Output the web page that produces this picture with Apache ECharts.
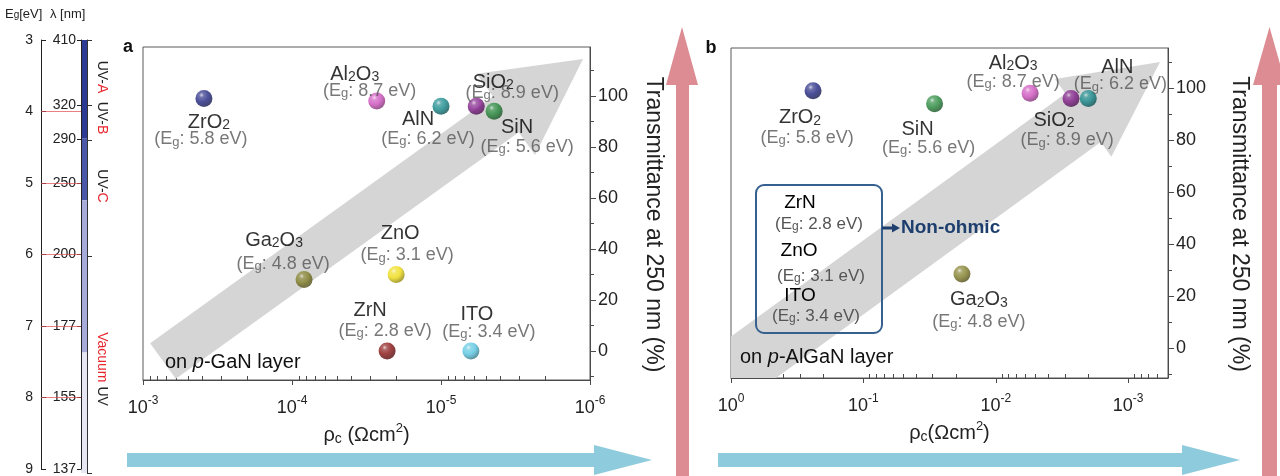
<!DOCTYPE html>
<html>
<head>
<meta charset="utf-8">
<script src="https://cdn.jsdelivr.net/npm/echarts@6.0.0/dist/echarts.min.js"></script>
<style>
html,body{margin:0;padding:0;background:#ffffff;}
#chart{width:1280px;height:476px;}
</style>
</head>
<body>
<div id="chart"></div>
<script>
// ---------------- data ----------------
const materials = ['ZrO2', 'Al2O3', 'AlN', 'SiO2', 'SiN', 'Ga2O3', 'ZnO', 'ZrN', 'ITO'];
const bandgapEv = [5.8, 8.7, 6.2, 8.9, 5.6, 4.8, 3.1, 2.8, 3.4];
const rhoOnGaN = [3.9e-4, 2.7e-5, 1.0e-5, 5.8e-6, 4.4e-6, 8.3e-5, 2.0e-5, 2.3e-5, 6.3e-6];
const transOnGaN = [99, 98, 96, 96, 94, 28, 30, 0, 0];
const rhoOnAlGaN = [0.24, 5.5e-3, 2.0e-3, 2.7e-3, 0.029, 0.018, null, null, null]; // null: non-ohmic
const transOnAlGaN = [99, 98, 96, 96, 94, 28.5, null, null, null];
const transTicks = [0, 20, 40, 60, 80, 100];
const transMinorTicks = [-10, 10, 30, 50, 70, 90, 110];
const egTicks = [3, 4, 5, 6, 7, 8, 9];
const lambdaTickLabels = ['410', '320', '290', '250', '200', '177', '155', '137'];
const lambdaTickEg = [3, 3.91, 4.39, 5, 6, 7, 8, 9];
const lambdaRightTickEg = [3, 3.91, 4.39, 6, 9];
const uvBandEdgesEg = [3, 4.36, 5.22, 7.33, 9];
const egGuideLines = [4, 5, 6, 7, 8];

// ---------------- styles / layout ----------------
const FONT = '"Liberation Sans", Arial, Helvetica, sans-serif';
const sphereColor = {ZrO2:'#1f2480', Al2O3:'#cc4cbc', AlN:'#128688', SiO2:'#7e1a86', SiN:'#238638',
  Ga2O3:'#7f7c24', ZnO:'#eedb10', ZrN:'#861010', ITO:'#55c4e0'};
const uvBandColors = ['#2b3a92', '#4b58a9', '#a6abd9', '#e6e7f3'];
// [name dx, name dy, Eg dx, Eg dy] relative to sphere centre
const labelOffsetA = {ZrO2:[5,23,-3,39], Al2O3:[-22,-28,-7,-12], AlN:[-23,12,-13,31], SiO2:[17,-25,36,-15],
  SiN:[23,15,33,34], Ga2O3:[-30,-40,-21,-18], ZnO:[4,-42,11,-21], ZrN:[-17,-41,-2,-22], ITO:[6,-37,18,-21]};
const labelOffsetB = {ZrO2:[-13,26,-6,45], Al2O3:[-17,-31,-17,-13], AlN:[29,-32,32,-16], SiO2:[-17,21,-4,40],
  SiN:[-17,25,-6,42], Ga2O3:[17,25,17,46]};
const boxLayout = {ZrN:[800,203,819,223], ZnO:[799,251,821,275], ITO:[800,296,816,315]};

function hexRgb(h){const n=parseInt(h.slice(1),16);return [n>>16,(n>>8)&255,n&255];}
function mix(h,t,f){const c=hexRgb(h);return 'rgb('+c.map(v=>Math.round(v+(t-v)*f)).join(',')+')';}
function sphereFill(h){
  return {type:'radial', x:0.36, y:0.3, r:0.8, colorStops:[
    {offset:0, color:mix(h,255,0.75)}, {offset:0.18, color:mix(h,255,0.2)},
    {offset:0.5, color:h}, {offset:1, color:mix(h,0,0.5)}]};
}
function formulaRich(name){
  return name.replace(/([A-Za-z]+)|(\d+)/g,(m,a,d)=> a ? '{n|'+a+'}' : '{d|'+d+'}');
}
function egRich(eg){ return '{e|(E}{g|g}{e|: '+eg.toFixed(1)+' eV)}'; }
const nameRichStyle = {
  n:{fontSize:20, fontFamily:FONT, color:'#000', lineHeight:22, verticalAlign:'bottom'},
  d:{fontSize:14, fontFamily:FONT, color:'#000', lineHeight:13, verticalAlign:'bottom'}
};
const egRichStyle = {
  e:{fontSize:18, fontFamily:FONT, color:'#555', lineHeight:22, verticalAlign:'bottom'},
  g:{fontSize:13, fontFamily:FONT, color:'#555', lineHeight:12, verticalAlign:'bottom'}
};
const powRich = {
  b:{fontSize:18, fontFamily:FONT, color:'#222', lineHeight:22, verticalAlign:'bottom'},
  s:{fontSize:12, fontFamily:FONT, color:'#222', lineHeight:12, verticalAlign:'top'}
};
const rhoRich = {
  r:{fontSize:20, fontFamily:FONT, color:'#222', lineHeight:24, verticalAlign:'bottom'},
  c:{fontSize:14, fontFamily:FONT, color:'#222', lineHeight:12, verticalAlign:'bottom'},
  p:{fontSize:13, fontFamily:FONT, color:'#222', lineHeight:12, verticalAlign:'top'}
};
function powLabel(v){
  const e = Math.log10(v), r = Math.round(e);
  if (Math.abs(e - r) > 1e-6) return '';
  return '{b|10}{s|' + r + '}';
}
function minorLogTicks(lo, hi){
  const out = [];
  for (let d = Math.floor(lo); d < Math.ceil(hi); d++)
    for (let k = 2; k <= 9; k++){ const v = d + Math.log10(k); if (v >= lo - 1e-9 && v <= hi + 1e-9) out.push(v); }
  return out;
}
function decadeTicks(lo, hi){ const out=[]; for (let d=Math.ceil(lo-1e-9); d<=Math.floor(hi+1e-9); d++) out.push(d); return out; }

// grids (pixel rects)
const GA = {left:143, top:47, width:447, height:333};
const GB = {left:731, top:48, width:437, height:330};
const rangeA = {xmin:1e-6, xmax:1e-3, ymin:-11.4, ymax:119.2};
const rangeB = {xmin:5e-4, xmax:1, ymin:-11.5, ymax:115.4};

function logXAxes(grid, r, rhoName){
  const lo = Math.log10(r.xmin), hi = Math.log10(r.xmax);
  return [
    {type:'log', logBase:10, gridIndex:grid, position:'bottom', min:r.xmin, max:r.xmax, inverse:true,
     axisLine:{show:true, onZero:false, lineStyle:{color:'#4a4a4a', width:1}},
     axisTick:{show:false}, splitLine:{show:false}, minorTick:{show:false}, minorSplitLine:{show:false},
     axisLabel:{margin:15, formatter:powLabel, rich:powRich, color:'#222', showMinLabel:true, showMaxLabel:true},
     name:rhoName, nameLocation:'middle', nameGap:39, nameTextStyle:{rich:rhoRich, color:'#222'}},
    {type:'value', gridIndex:grid, position:'bottom', min:lo, max:hi, inverse:true,
     axisLine:{show:false, onZero:false}, axisLabel:{show:false}, splitLine:{show:false},
     axisTick:{show:true, inside:false, length:5, customValues:decadeTicks(lo,hi), lineStyle:{color:'#4a4a4a'}}},
    {type:'value', gridIndex:grid, position:'bottom', min:lo, max:hi, inverse:true,
     axisLine:{show:false, onZero:false}, axisLabel:{show:false}, splitLine:{show:false},
     axisTick:{show:true, inside:true, length:4, customValues:minorLogTicks(lo,hi), lineStyle:{color:'#4a4a4a'}}}
  ];
}
function transYAxes(grid, r, gap){
  return [
    {type:'value', gridIndex:grid, position:'right', min:r.ymin, max:r.ymax,
     axisLine:{show:true, onZero:false, lineStyle:{color:'#4a4a4a'}}, splitLine:{show:false},
     axisTick:{show:true, inside:false, length:6, customValues:transTicks, lineStyle:{color:'#4a4a4a'}},
     axisLabel:{customValues:transTicks, fontSize:18, fontFamily:FONT, color:'#222', margin:8},
     name:'Transmittance at 250 nm (%)', nameLocation:'middle', nameRotate:-90, nameGap:gap,
     nameTextStyle:{fontSize:23, fontFamily:FONT, color:'#222', padding:[0,0,0,22]}},
    {type:'value', gridIndex:grid, position:'right', min:r.ymin, max:r.ymax,
     axisLine:{show:false, onZero:false}, splitLine:{show:false}, axisLabel:{show:false},
     axisTick:{show:true, inside:false, length:4, customValues:transMinorTicks, lineStyle:{color:'#4a4a4a'}}}
  ];
}

function panelSeries(rho, trans, offsets, xIdx, yIdx){
  const idx = materials.map((m,i)=>i).filter(i => rho[i] != null);
  const pts = {type:'scatter', xAxisIndex:xIdx, yAxisIndex:yIdx, symbolSize:17, silent:true, z:3,
    emphasis:{disabled:true},
    label:{show:true, position:'inside', formatter:p=>formulaRich(p.name), rich:nameRichStyle},
    data: idx.map(i => ({name:materials[i], value:[rho[i], trans[i]],
      itemStyle:{color:sphereFill(sphereColor[materials[i]])},
      label:{offset:[offsets[materials[i]][0], offsets[materials[i]][1]]}}))};
  const egs = {type:'scatter', xAxisIndex:xIdx, yAxisIndex:yIdx, symbolSize:17, silent:true, z:4,
    emphasis:{disabled:true}, itemStyle:{color:'rgba(0,0,0,0)'},
    label:{show:true, position:'inside', formatter:p=>egRich(bandgapEv[materials.indexOf(p.name)]), rich:egRichStyle},
    data: idx.map(i => ({name:materials[i], value:[rho[i], trans[i]],
      label:{offset:[offsets[materials[i]][2], offsets[materials[i]][3]]}}))};
  return [pts, egs];
}

// ---------- geometry helpers for annotation arrows ----------
function arrowPoly(tail, tip, shaftW, headW, headL){
  const dx=tip[0]-tail[0], dy=tip[1]-tail[1], L=Math.hypot(dx,dy);
  const ux=dx/L, uy=dy/L, nx=-uy, ny=ux, s=shaftW/2, h=headW/2;
  const b=[tip[0]-ux*headL, tip[1]-uy*headL];
  return [[tail[0]+nx*s,tail[1]+ny*s],[b[0]+nx*s,b[1]+ny*s],[b[0]+nx*h,b[1]+ny*h],tip,
          [b[0]-nx*h,b[1]-ny*h],[b[0]-nx*s,b[1]-ny*s],[tail[0]-nx*s,tail[1]-ny*s]];
}
function clipPoly(pts, g){
  const x0=g.left, y0=g.top, x1=g.left+g.width, y1=g.top+g.height;
  const edges = [p=>p[0]>=x0, p=>p[0]<=x1, p=>p[1]>=y0, p=>p[1]<=y1];
  const inter = [
    (a,b)=>{const t=(x0-a[0])/(b[0]-a[0]);return [x0,a[1]+t*(b[1]-a[1])];},
    (a,b)=>{const t=(x1-a[0])/(b[0]-a[0]);return [x1,a[1]+t*(b[1]-a[1])];},
    (a,b)=>{const t=(y0-a[1])/(b[1]-a[1]);return [a[0]+t*(b[0]-a[0]),y0];},
    (a,b)=>{const t=(y1-a[1])/(b[1]-a[1]);return [a[0]+t*(b[0]-a[0]),y1];}];
  let out = pts;
  for (let e=0;e<4;e++){
    const inp=out; out=[];
    for (let i=0;i<inp.length;i++){
      const a=inp[(i+inp.length-1)%inp.length], b=inp[i];
      const ia=edges[e](a), ib=edges[e](b);
      if (ib){ if(!ia) out.push(inter[e](a,b)); out.push(b); }
      else if (ia) out.push(inter[e](a,b));
    }
  }
  return out;
}
function txt(x, y, text, rich, align, extra){
  return Object.assign({type:'text', x:x, y:y, z:10, silent:true,
    style:{text:text, rich:rich, fontFamily:FONT, fontSize:18, fill:'#222',
      align:align||'center', textAlign:align||'center', verticalAlign:'middle', textVerticalAlign:'middle'}}, extra||{});
}

const graphics = [];
graphics.push({type:'polygon', z:1, silent:true, shape:{points:clipPoly(arrowPoly([163,361],[583,59],44,100,95), GA)}, style:{fill:'#d5d5d5'}});
graphics.push({type:'polygon', z:1, silent:true, shape:{points:clipPoly(arrowPoly([707,391],[1160,62],60,96,95), GB)}, style:{fill:'#d5d5d5'}});
graphics.push({type:'polygon', z:1, silent:true, shape:{points:[[127,453],[594,453],[594,445],[652,460],[594,475],[594,467],[127,467]]}, style:{fill:'#8ecbdd'}});
graphics.push({type:'polygon', z:1, silent:true, shape:{points:[[718,453],[1182,453],[1182,445],[1240,460],[1182,475],[1182,467],[718,467]]}, style:{fill:'#8ecbdd'}});
graphics.push({type:'polygon', z:1, silent:true, shape:{points:[[676,480],[676,85],[666,85],[682,27],[698,85],[689,85],[689,480]]}, style:{fill:'#dc8c92'}});
graphics.push({type:'polygon', z:1, silent:true, shape:{points:[[1262,480],[1262,85],[1253,85],[1269.5,27],[1286,85],[1277,85],[1277,480]]}, style:{fill:'#dc8c92'}});

const boldRich = {t:{fontSize:18, fontWeight:'bold', fontFamily:FONT, fill:'#111'}};
graphics.push(txt(128, 47, '{t|a}', boldRich));
graphics.push(txt(711, 48, '{t|b}', boldRich));
const layerRich = {t:{fontSize:20, fontFamily:FONT, fill:'#111'}, i:{fontSize:20, fontFamily:FONT, fontStyle:'italic', fill:'#111'}};
graphics.push(txt(165, 362, '{t|on }{i|p}{t|-GaN layer}', layerRich, 'left'));
graphics.push(txt(740, 357, '{t|on }{i|p}{t|-AlGaN layer}', layerRich, 'left'));

// non-ohmic box
graphics.push({type:'rect', z:10, silent:true, shape:{x:756, y:185, width:126, height:148, r:8}, style:{fill:'rgba(0,0,0,0)', stroke:'#36608f', lineWidth:2}});
const nameRichG = {n:{fontSize:19, fontFamily:FONT, fill:'#000'}, d:{fontSize:13, fontFamily:FONT, fill:'#000'}};
const egRichG = {e:{fontSize:17, fontFamily:FONT, fill:'#555', lineHeight:20, verticalAlign:'bottom'}, g:{fontSize:12, fontFamily:FONT, fill:'#555', lineHeight:11, verticalAlign:'bottom'}};
Object.keys(boxLayout).forEach(m => {
  const p = boxLayout[m], eg = bandgapEv[materials.indexOf(m)];
  graphics.push(txt(p[0], p[1], formulaRich(m), nameRichG));
  graphics.push(txt(p[2], p[3], egRich(eg), egRichG));
});
graphics.push({type:'line', z:10, silent:true, shape:{x1:882, y1:228, x2:893, y2:228}, style:{stroke:'#1e3f6e', lineWidth:3}});
graphics.push({type:'polygon', z:10, silent:true, shape:{points:[[892,223.5],[900,228],[892,232.5]]}, style:{fill:'#1e3f6e'}});
const noRich = {t:{fontSize:19, fontWeight:'bold', fontFamily:FONT, fill:'#1e3f6e'}};
graphics.push(txt(901, 228, '{t|Non-ohmic}', noRich, 'left'));

// left strip headers and rotated band names
const hdrRich = {a:{fontSize:13, fontFamily:FONT, fill:'#222'}, g:{fontSize:10, fontFamily:FONT, fill:'#222', lineHeight:8, verticalAlign:'bottom'}};
graphics.push(txt(5, 14, '{a|E}{g|g}{a|[eV]}', hdrRich, 'left'));
graphics.push(txt(50, 14, '{a|λ [nm]}', hdrRich, 'left'));
const uvRich = {k:{fontSize:14, fontFamily:FONT, fill:'#222'}, r:{fontSize:14, fontFamily:FONT, fill:'#e8262d'}};
[['{k|UV-}{r|A}',77],['{k|UV-}{r|B}',118],['{k|UV-}{r|C}',186],['{r|Vacuum }{k|UV}',369]].forEach(t => {
  graphics.push(txt(102, t[1], t[0], uvRich, 'center', {rotation:-Math.PI/2}));
});

// ---------------- option ----------------
const xAxes = [].concat(
  logXAxes(0, rangeA, '{r|ρ}{c|c}{r| (Ωcm}{p|2}{r|)}'),
  logXAxes(1, rangeB, '{r|ρ}{c|c}{r|(Ωcm}{p|2}{r|)}'),
  [{type:'value', gridIndex:2, min:0, max:1, show:false, axisLine:{onZero:false}},
   {type:'category', gridIndex:3, data:['UV'], show:false, axisLine:{onZero:false}}]
);
function nearestLambda(v){
  let best = 0;
  lambdaTickEg.forEach((e,i)=>{ if (Math.abs(e-v) < Math.abs(lambdaTickEg[best]-v)) best = i; });
  return lambdaTickLabels[best];
}
const yAxes = [].concat(
  transYAxes(0, rangeA, 52),
  transYAxes(1, rangeB, 60),
  [{type:'value', gridIndex:2, position:'left', min:egTicks[0], max:egTicks[egTicks.length-1], interval:1, inverse:true,
    axisLine:{show:true, onZero:false, lineStyle:{color:'#222'}}, splitLine:{show:false},
    axisTick:{show:true, inside:true, length:5, lineStyle:{color:'#222'}},
    axisLabel:{fontSize:14, fontFamily:FONT, color:'#222', margin:8}},
   {type:'value', gridIndex:2, position:'right', min:3, max:9, inverse:true, z:3,
    axisLine:{show:true, onZero:false, lineStyle:{color:'#222'}}, splitLine:{show:false},
    axisTick:{show:true, inside:true, length:4, customValues:lambdaTickEg, lineStyle:{color:'#222'}},
    axisLabel:{inside:true, margin:5, customValues:lambdaTickEg, formatter:nearestLambda, fontSize:14, fontFamily:FONT, color:'#222'}},
   {type:'value', gridIndex:3, position:'right', min:3, max:9, inverse:true,
    axisLine:{show:true, onZero:false, lineStyle:{color:'#333'}}, splitLine:{show:false},
    axisTick:{show:true, inside:false, length:5, customValues:lambdaRightTickEg, lineStyle:{color:'#333'}},
    axisLabel:{show:false}}]
);

const series = [].concat(
  panelSeries(rhoOnGaN, transOnGaN, labelOffsetA, 0, 0),
  panelSeries(rhoOnAlGaN, transOnAlGaN, labelOffsetB, 3, 2),
  uvBandColors.map((c,i) => ({type:'bar', xAxisIndex:7, yAxisIndex:6, stack:'uv', barWidth:'100%', silent:true,
    itemStyle:{color:c}, data:[i === 0 ? uvBandEdgesEg[1] : uvBandEdgesEg[i+1] - uvBandEdgesEg[i]]})),
  [{type:'line', xAxisIndex:6, yAxisIndex:4, data:[], silent:true, z:1,
    markLine:{silent:true, symbol:['none','none'], label:{show:false},
      lineStyle:{color:'#e04a50', width:1, type:'solid', opacity:0.7},
      data:egGuideLines.map(v => ({yAxis:v}))}}]
);

const option = {
  animation:false,
  backgroundColor:'#ffffff',
  textStyle:{fontFamily:FONT},
  grid:[
    Object.assign({show:true, borderColor:'#5a5a5a', borderWidth:1, backgroundColor:'rgba(0,0,0,0)'}, GA),
    Object.assign({show:true, borderColor:'#5a5a5a', borderWidth:1, backgroundColor:'rgba(0,0,0,0)'}, GB),
    {left:41, top:40, width:40, height:433},
    {left:81, top:40, width:6, height:433}
  ],
  xAxis:xAxes,
  yAxis:yAxes,
  series:series,
  graphic:{elements:graphics}
};
const chart = echarts.init(document.getElementById('chart'));
chart.setOption(option);
</script>
</body>
</html>
